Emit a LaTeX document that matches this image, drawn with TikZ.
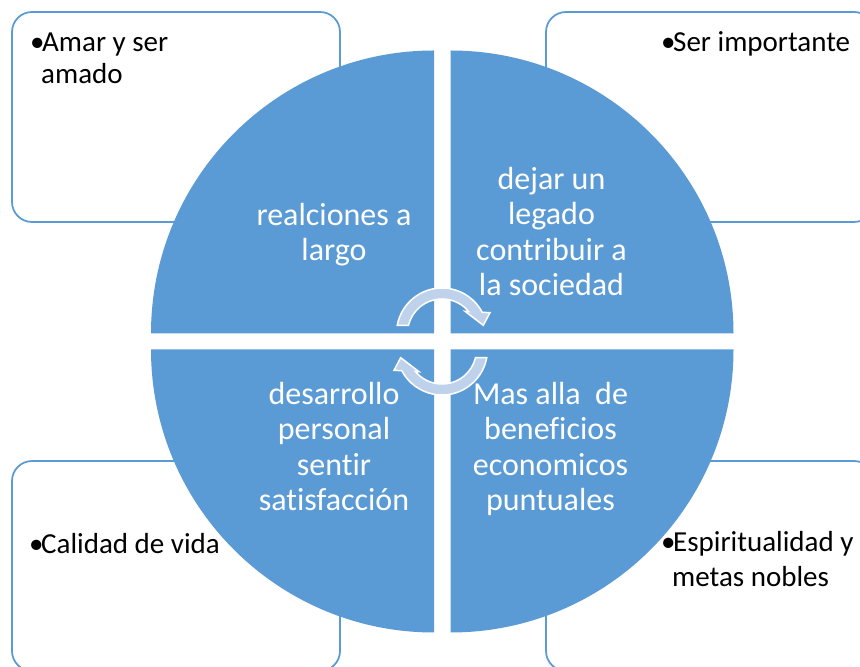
\documentclass[tikz,border=0pt]{standalone}
\usepackage{fontspec}
\setmainfont{Carlito}[Ligatures={NoCommon,NoRare,NoContextual}]
\definecolor{quadblue}{RGB}{91,155,213}
\definecolor{arrowfill}{RGB}{190,210,236}
\newcommand{\mybullet}{\makebox[12pt][l]{•}}
\tikzset{
  cornerbox/.style={draw=quadblue, line width=1.75pt, fill=white, rounded corners=20pt},
  quad/.style={fill=quadblue},
  quadtext/.style={text=white, align=center, inner sep=0pt, anchor=base,
    font=\fontsize{32}{35.5}\selectfont},
  boxtext/.style={text=black, align=left, inner sep=0pt, anchor=base west},
  cyclearrow/.style={fill=arrowfill, draw=white, line width=1.5pt, line join=miter}
}
\begin{document}
\begin{tikzpicture}[x=1pt,y=1pt]
\useasboundingbox (0,0) rectangle (860,667);
\clip (0,0) rectangle (860,667);
% corner boxes
\draw[cornerbox] (12,445) rectangle (340,655);
\draw[cornerbox] (546,445) rectangle (874,655);
\draw[cornerbox] (12,-4) rectangle (340,206);
\draw[cornerbox] (546,-4) rectangle (874,206);
% box texts (base = last line)
\node[boxtext, font=\fontsize{29}{31.6}\selectfont] (tltext) at (30,583.7)
  {\mybullet Amar y ser\\\hspace*{11pt}amado};
\node[boxtext, font=\fontsize{29}{31.6}\selectfont] (trtext) at (661,615)
  {\mybullet Ser importante};
\node[boxtext, font=\fontsize{29}{31.6}\selectfont] (bltext) at (29,113)
  {\mybullet Calidad de vida};
\node[boxtext, font=\fontsize{29}{35}\selectfont] (brtext) at (661,80.3)
  {\mybullet Espiritualidad y\\\hspace*{11pt}metas nobles};
% quadrants
\fill[quad] (434,333.5) -- ++(-283,0) arc[start angle=180, end angle=90, radius=283pt] -- cycle;
\fill[quad] (450.5,333.5) -- ++(0,283) arc[start angle=90, end angle=0, radius=283pt] -- cycle;
\fill[quad] (434,317.5) -- ++(0,-283) arc[start angle=270, end angle=180, radius=283pt] -- cycle;
\fill[quad] (450.5,317.5) -- ++(283,0) arc[start angle=0, end angle=-90, radius=283pt] -- cycle;
% quadrant texts (base = last line)
\node[quadtext] (qtl) at (334,406) {realciones a\\largo};
\node[quadtext] (qtr) at (551.5,371) {dejar un\\legado\\contribuir a\\la sociedad};
\node[quadtext] (qbl) at (334,156) {desarrollo\\personal\\sentir\\satisfacción};
\node[quadtext] (qbr) at (550.5,156) {Mas alla\ \ de\\beneficios\\economicos\\puntuales};
% cycle arrows
\begin{scope}[shift={(442,333.5)}]
\draw[cyclearrow] (169.6:45.5) arc[start angle=169.6, end angle=27.8, radius=45.5pt]
  -- (48,20.8) -- (41.3,8.2) -- (23,22.2) -- (26.6,22.0)
  arc[start angle=39.6, end angle=166.25, radius=34.5pt] -- cycle;
\end{scope}
\begin{scope}[rotate around={180:(442,325.5)}]
\begin{scope}[shift={(442,333.5)}]
\draw[cyclearrow] (169.6:45.5) arc[start angle=169.6, end angle=27.8, radius=45.5pt]
  -- (48,20.8) -- (41.3,8.2) -- (23,22.2) -- (26.6,22.0)
  arc[start angle=39.6, end angle=166.25, radius=34.5pt] -- cycle;
\end{scope}
\end{scope}
\end{tikzpicture}
\end{document}
